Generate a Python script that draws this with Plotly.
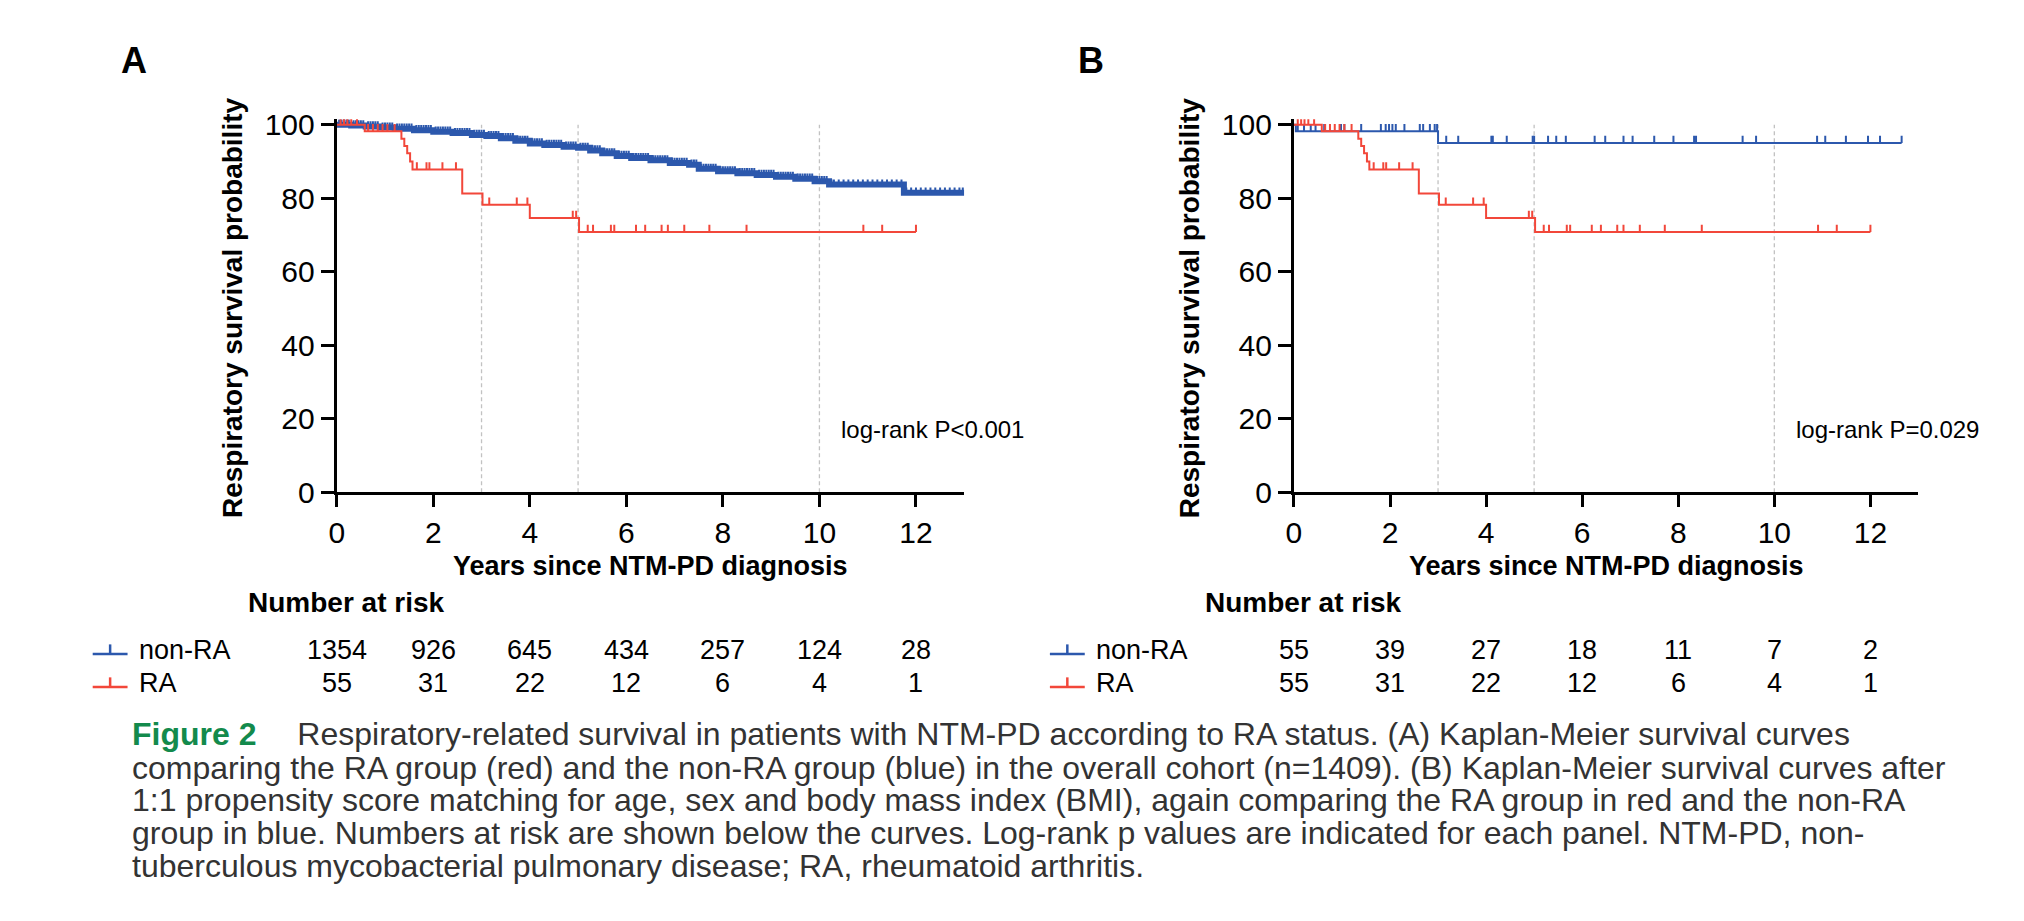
import plotly.graph_objects as go

# Data
# Panel A, non-RA (whole cohort): step times (years) and survival (%)
a_nonra_t = [0, 0.3, 0.6, 0.9, 1.2, 1.6, 2.0, 2.4, 2.8, 3.1, 3.4, 3.7, 4.0, 4.3, 4.7, 5.0,
             5.25, 5.5, 5.8, 6.1, 6.5, 6.9, 7.3, 7.5, 7.9, 8.3, 8.7, 9.1, 9.5, 9.9, 10.2, 11.75]
a_nonra_s = [100, 99.8, 99.5, 99.2, 98.9, 98.5, 98.1, 97.7, 97.2, 96.9, 96.3, 95.6, 94.9, 94.5, 94.0, 93.7,
             93.0, 92.2, 91.5, 90.9, 90.3, 89.6, 89.1, 88.0, 87.3, 86.8, 86.3, 85.8, 85.3, 84.6, 83.7, 81.5]
a_nonra_end = 13.0
a_nonra_cens = [0.05, 0.1, 0.15, 0.2, 0.25, 0.35, 0.4, 0.45, 0.5, 0.55, 0.65, 0.7, 0.75, 0.8, 0.85,
                0.95, 1.0, 1.05, 1.1, 1.15, 1.25, 1.3, 1.35, 1.4, 1.45, 1.5, 1.55, 1.65, 1.7, 1.75,
                1.8, 1.85, 1.9, 1.95, 2.05, 2.1, 2.15, 2.2, 2.25, 2.3, 2.35, 2.45, 2.5, 2.55, 2.6,
                2.65, 2.7, 2.75, 2.85, 2.9, 2.95, 3.0, 3.05, 3.15, 3.2, 3.25, 3.3, 3.35, 3.45, 3.5,
                3.55, 3.6, 3.65, 3.75, 3.8, 3.85, 3.9, 3.95, 4.05, 4.1, 4.15, 4.2, 4.25, 4.35, 4.4,
                4.45, 4.5, 4.55, 4.6, 4.65, 4.75, 4.8, 4.85, 4.9, 4.95, 5.05, 5.1, 5.15, 5.2, 5.3,
                5.35, 5.4, 5.45, 5.55, 5.6, 5.65, 5.7, 5.75, 5.85, 5.9, 5.95, 6.0, 6.05, 6.15, 6.2,
                6.25, 6.3, 6.35, 6.4, 6.45, 6.55, 6.6, 6.65, 6.7, 6.75, 6.8, 6.85, 6.95, 7.0, 7.05,
                7.1, 7.15, 7.2, 7.25, 7.35, 7.4, 7.45, 7.55, 7.6, 7.65, 7.7, 7.75, 7.8, 7.85, 7.95,
                8.0, 8.05, 8.1, 8.15, 8.2, 8.25, 8.35, 8.4, 8.45, 8.5, 8.55, 8.6, 8.65, 8.75, 8.8,
                8.85, 8.9, 8.95, 9.0, 9.05, 9.15, 9.2, 9.25, 9.3, 9.35, 9.4, 9.45, 9.55, 9.6, 9.65,
                9.7, 9.75, 9.8, 9.85, 9.95, 10.0, 10.05, 10.1, 10.15, 10.25, 10.3, 10.4, 10.5, 10.6,
                10.7, 10.8, 10.9, 11.0, 11.1, 11.2, 11.3, 11.4, 11.5, 11.6, 11.7, 11.8, 11.9, 12.0,
                12.1, 12.2, 12.3, 12.4, 12.5, 12.6, 12.7, 12.8, 12.9, 12.97]

# RA group (same 55 patients in both panels)
ra_t = [0, 0.58, 1.34, 1.40, 1.46, 1.52, 1.57, 2.60, 3.02, 4.00, 5.02]
ra_s = [100, 98.2, 96.2, 94.2, 92.2, 90.0, 87.8, 81.3, 78.2, 74.6, 70.8]
ra_end = 12.0
ra_cens = [0.08, 0.15, 0.22, 0.30, 0.42, 0.65, 0.75, 0.85, 0.95, 1.05, 1.20,
           1.66, 1.86, 1.92, 2.19, 2.47, 3.16, 3.73, 3.95, 4.89, 4.96,
           5.20, 5.31, 5.68, 5.75, 6.20, 6.39, 6.73, 6.86, 7.20, 7.72, 8.49,
           10.91, 11.30, 12.0]

# Panel B, matched non-RA
b_nonra_t = [0, 0.04, 3.0]
b_nonra_s = [100, 98.2, 95.0]
b_nonra_end = 12.65
b_nonra_cens = [0.08, 0.21, 0.35, 0.45, 0.63, 0.98, 1.05, 1.40, 1.81, 1.91, 1.98, 2.05, 2.12,
                2.30, 2.62, 2.69, 2.83, 2.93, 2.98, 3.17, 3.42, 4.11, 4.14, 4.43, 4.97, 5.0,
                5.29, 5.46, 5.66, 6.26, 6.48, 6.86, 7.05, 7.5, 7.9, 8.33, 8.37, 9.34, 9.62,
                10.89, 11.06, 11.49, 11.95, 12.2, 12.65]

risk_years = [0, 2, 4, 6, 8, 10, 12]
a_risk_nonra = [1354, 926, 645, 434, 257, 124, 28]
a_risk_ra = [55, 31, 22, 12, 6, 4, 1]
b_risk_nonra = [55, 39, 27, 18, 11, 7, 2]
b_risk_ra = [55, 31, 22, 12, 6, 4, 1]

ref_years = [3, 5, 10]
pvals = ["log-rank P<0.001", "log-rank P=0.029"]

BLUE = "#2c58ad"
RED = "#f2473a"
FONT = "Liberation Sans, Arial, sans-serif"


def surv_at(t, times, surv):
    s = surv[0]
    for ti, si in zip(times, surv):
        if ti <= t:
            s = si
    return s


fig = go.Figure()


def add_curve(times, surv, end, cens, color, xa, ya, lw, tw, th):
    fig.add_trace(go.Scatter(
        x=times + [end], y=surv + [surv[-1]], mode="lines", line_shape="hv",
        line=dict(color=color, width=lw), xaxis=xa, yaxis=ya, hoverinfo="skip"))
    fig.add_trace(go.Scatter(
        x=cens, y=[surv_at(c, times, surv) for c in cens], mode="markers",
        marker=dict(size=1, color=color, opacity=0),
        error_y=dict(type="constant", value=th, valueminus=0, symmetric=False,
                     color=color, thickness=tw, width=0),
        xaxis=xa, yaxis=ya, hoverinfo="skip"))


add_curve(a_nonra_t, a_nonra_s, a_nonra_end, a_nonra_cens, BLUE, "x", "y", 6, 2, 1.4)
add_curve(ra_t, ra_s, ra_end, ra_cens, RED, "x", "y", 2, 2, 2.0)
add_curve(b_nonra_t, b_nonra_s, b_nonra_end, b_nonra_cens, BLUE, "x2", "y2", 2, 2, 2.0)
add_curve(ra_t, ra_s, ra_end, ra_cens, RED, "x2", "y2", 2, 2, 2.0)

W, H = 2024, 921
axis_x = dict(range=[0, 13], tickvals=risk_years, showline=True, linewidth=3, linecolor="black",
              ticks="outside", ticklen=12, tickwidth=3, tickcolor="black", showgrid=False,
              zeroline=False, tickfont=dict(size=30, color="black", family=FONT))
axis_y = dict(range=[0, 101.5], tickvals=[0, 20, 40, 60, 80, 100], showline=True, linewidth=3,
              linecolor="black", ticks="outside", ticklen=13, tickwidth=3, tickcolor="black",
              showgrid=False, zeroline=False, tickfont=dict(size=30, color="black", family=FONT))
ydom = [1 - 488 / H, 1 - 103.3 / H]

fig.update_layout(
    width=W, height=H, margin=dict(l=0, r=0, t=0, b=0),
    paper_bgcolor="white", plot_bgcolor="white", showlegend=False,
    font=dict(family=FONT, color="black"),
    xaxis=dict(axis_x, domain=[322 / W, 952 / W], anchor="y"),
    yaxis=dict(axis_y, domain=ydom, anchor="x"),
    xaxis2=dict(axis_x, domain=[1283 / W, 1910 / W], anchor="y2"),
    yaxis2=dict(axis_y, domain=ydom, anchor="x2"),
)

ann = []
shapes = []
panels = [("A", "x", "y", 322, a_risk_nonra, a_risk_ra, pvals[0]),
          ("B", "x2", "y2", 1283, b_risk_nonra, b_risk_ra, pvals[1])]
for letter, xa, ya, ax0, r_nonra, r_ra, ptxt in panels:
    # dotted reference lines
    for ry in ref_years:
        shapes.append(dict(type="line", xref=xa, yref=ya, x0=ry, x1=ry, y0=0, y1=100,
                           line=dict(color="#c2c2c2", width=1.3, dash="4px,3px"), layer="below"))
    ann.append(dict(text="<b>%s</b>" % letter, x=(ax0 - 219) / W, y=1 - 43 / H, xref="paper",
                    yref="paper", showarrow=False, xanchor="left", yanchor="middle",
                    font=dict(size=36, color="black")))
    ann.append(dict(text="<b>Respiratory survival probability</b>", textangle=-90,
                    x=(ax0 - 104) / W, y=1 - 298 / H, xref="paper", yref="paper", showarrow=False,
                    xanchor="center", yanchor="middle", font=dict(size=28, color="black")))
    ann.append(dict(text="<b>Years since NTM-PD diagnosis</b>", x=6.5, y=1 - 564 / H, xref=xa,
                    yref="paper", showarrow=False, xanchor="center", yanchor="middle",
                    font=dict(size=27, color="black")))
    ann.append(dict(text=ptxt, x=10.4, y=17, xref=xa, yref=ya, showarrow=False,
                    xanchor="left", yanchor="middle", font=dict(size=24, color="black")))
    # number at risk table
    ann.append(dict(text="<b>Number at risk</b>", x=(ax0 - 91) / W, y=1 - 602 / H, xref="paper",
                    yref="paper", showarrow=False, xanchor="left", yanchor="middle",
                    font=dict(size=28, color="black")))
    for row_y, label, color, vals in [(651, "non-RA", BLUE, r_nonra), (685, "RA", RED, r_ra)]:
        ann.append(dict(text=label, x=(ax0 - 201) / W, y=1 - row_y / H, xref="paper", yref="paper",
                        showarrow=False, xanchor="left", yanchor="middle",
                        font=dict(size=27, color="black")))
        shapes.append(dict(type="line", xref="paper", yref="paper", x0=(ax0 - 245) / W,
                           x1=(ax0 - 210) / W, y0=1 - (row_y + 4) / H, y1=1 - (row_y + 4) / H,
                           line=dict(color=color, width=2.5)))
        shapes.append(dict(type="line", xref="paper", yref="paper", x0=(ax0 - 227.5) / W,
                           x1=(ax0 - 227.5) / W, y0=1 - (row_y + 4) / H, y1=1 - (row_y - 6) / H,
                           line=dict(color=color, width=2.5)))
        for yr, v in zip(risk_years, vals):
            ann.append(dict(text=str(v), x=yr, y=1 - row_y / H, xref=xa, yref="paper",
                            showarrow=False, xanchor="center", yanchor="middle",
                            font=dict(size=27, color="black")))

caption = [
    '<span style="color:#138a4c"><b>Figure 2</b></span>\u2003 Respiratory-related survival in patients '
    'with NTM-PD according to RA status. (A) Kaplan-Meier survival curves',
    "comparing the RA group (red) and the non-RA group (blue) in the overall cohort (n=1409). "
    "(B) Kaplan-Meier survival curves after",
    "1:1 propensity score matching for age, sex and body mass index (BMI), again comparing the RA "
    "group in red and the non-RA",
    "group in blue. Numbers at risk are shown below the curves. Log-rank p values are indicated "
    "for each panel. NTM-PD, non-",
    "tuberculous mycobacterial pulmonary disease; RA, rheumatoid arthritis.",
]
cap_y = [737, 772, 806, 840, 874]
for line, cy in zip(caption, cap_y):
    ann.append(dict(text=line, x=114 / W, y=1 - cy / H, xref="paper", yref="paper",
                    showarrow=False, xanchor="left", yanchor="middle",
                    font=dict(size=32, color="#333333")))

fig.update_layout(annotations=ann, shapes=shapes)
fig.write_html("out.html")
